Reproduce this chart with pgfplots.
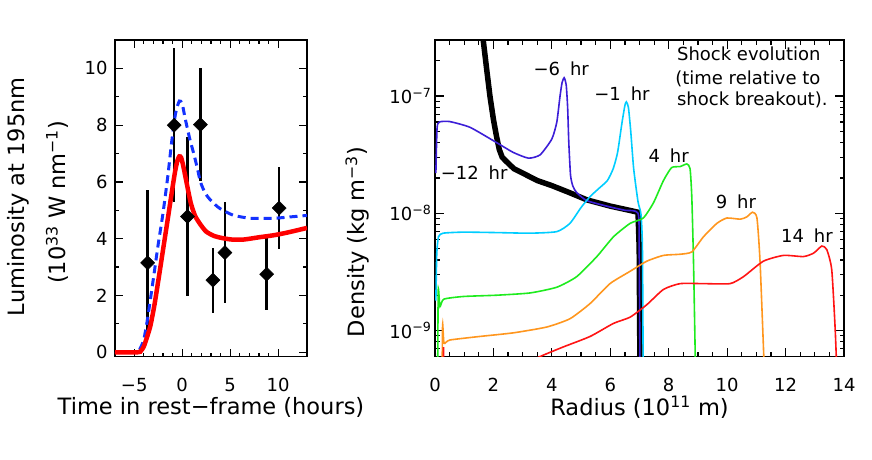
\documentclass[border=0pt]{standalone}
\usepackage{fontspec}
\setmainfont{DejaVu Sans}
\usepackage{pgfplots}
\pgfplotsset{compat=1.18}
\definecolor{cviolet}{RGB}{60,30,215}
\definecolor{ccyan}{RGB}{0,205,255}
\definecolor{cgreen}{RGB}{30,235,30}
\definecolor{corange}{RGB}{255,150,30}
\definecolor{cred}{RGB}{255,20,20}
\definecolor{lblue}{RGB}{20,50,255}
\newcommand{\tl}{\fontsize{18}{20}\selectfont}
\newcommand{\al}{\fontsize{22.5}{24}\selectfont}
\newcommand{\an}{\fontsize{18}{20}\selectfont}
\begin{document}
\begin{tikzpicture}
\path[use as bounding box] (0pt,0pt) rectangle (872pt,459pt);
% ---------------- left panel ----------------
\begin{axis}[
  at={(115pt,102.5pt)}, anchor=south west, scale only axis,
  width=192pt, height=316.5pt,
  xmin=-7, xmax=13, ymin=-0.15, ymax=11,
  xtick={-5,0,5,10}, xticklabels={−5,0,5,10}, minor x tick num=4,
  ytick={0,2,4,6,8,10}, yticklabels={0,2,4,6,8,10}, minor y tick num=1,
  tick align=inside, major tick length=8pt, minor tick length=4pt,
  axis line style={line width=1.6pt},
  every tick/.style={line width=1.2pt, black},
  tick label style={font=\tl},
  xticklabel style={yshift=-18pt},
  yticklabel style={xshift=-4pt},
  xlabel={Time in rest−frame (hours)},
  xlabel style={at={(axis description cs:0.5,-0.16)}, anchor=center, font=\al},
  ylabel={Luminosity at 195nm},
  ylabel style={at={(axis description cs:-0.505,0.505)}, anchor=center, font=\al},
  extra description/.code={\node[rotate=90, font=\al] at (-0.302,0.487) {(10\textsuperscript{33} W nm\textsuperscript{−1})};},
]
\addplot[only marks, mark=diamond*, mark size=7pt,
  mark options={xscale=1.333, fill=black, draw=black, line width=0.5pt},
  error bars/.cd, y dir=both, y explicit, error mark=none,
  error bar style={line width=2.4pt, black}]
  table[x=x, y=y, y error=e] {
x y e
-3.6 3.15 2.55
-0.83 8.0 2.72
0.55 4.78 2.8
1.9 8.02 1.98
3.2 2.54 1.15
4.45 3.51 1.77
8.8 2.75 1.27
10.1 5.08 1.45
};
\addplot[lblue, line width=3pt, dash pattern=on 8pt off 5pt, smooth, tension=0.4] coordinates {
(-7,0) (-4.7,0) (-4.4,0.12) (-4.0,0.45) (-3.6,1.2) (-3.0,2.6) (-2.5,3.8) (-2.0,4.9) (-1.5,6.2) (-1.1,7.4) (-0.7,8.4) (-0.3,8.85) (0,8.75) (0.3,8.25) (0.8,7.5) (1.2,7.0) (1.6,6.45) (1.9,6.0) (2.4,5.6) (2.9,5.38) (3.5,5.18) (4.0,5.05) (5.3,4.83) (7.1,4.72) (9.5,4.72) (11,4.76) (13,4.82)
};
\addplot[red, line width=4.5pt, smooth, tension=0.4] coordinates {
(-7,0) (-4.6,0) (-4.3,0.05) (-4.0,0.2) (-3.6,0.6) (-3.3,0.95) (-2.9,1.65) (-2.5,2.5) (-2.0,3.6) (-1.5,4.7) (-1.1,5.6) (-0.75,6.35) (-0.5,6.75) (-0.3,6.9) (-0.1,6.85) (0.15,6.5) (0.5,5.9) (0.9,5.25) (1.35,4.8) (1.9,4.5) (2.5,4.25) (3.3,4.1) (4.2,4.02) (5.2,3.97) (6.4,3.97) (8,4.05) (9.5,4.12) (11,4.22) (13,4.38)
};
\end{axis}
% ---------------- right panel ----------------
\begin{axis}[
  at={(435pt,102.5pt)}, anchor=south west, scale only axis,
  width=409pt, height=316.5pt,
  xmin=0, xmax=14, ymode=log, ymin=6e-10, ymax=3e-7,
  xtick={0,2,4,6,8,10,12,14}, xticklabels={0,2,4,6,8,10,12,14}, minor x tick num=3,
  ytick={1e-9,1e-8,1e-7},
  yticklabels={10\textsuperscript{−9},10\textsuperscript{−8},10\textsuperscript{−7}},
  minor ytick={7e-10,8e-10,9e-10,2e-9,3e-9,4e-9,5e-9,6e-9,7e-9,8e-9,9e-9,2e-8,3e-8,4e-8,5e-8,6e-8,7e-8,8e-8,9e-8,2e-7,3e-7},
  tick align=inside, major tick length=9pt, minor tick length=4.5pt,
  axis line style={line width=1.6pt},
  every tick/.style={line width=1.2pt, black},
  tick label style={font=\tl},
  xticklabel style={yshift=-18pt},
  xlabel={Radius (10\textsuperscript{11} m)},
  xlabel style={at={(axis description cs:0.5,-0.16)}, anchor=center, font=\al},
  ylabel={Density (kg m\textsuperscript{−3})},
  ylabel style={at={(axis description cs:-0.19,0.362)}, anchor=center, font=\al},
]
% black: -12 hr
\addplot[black, line width=5.5pt] coordinates {
(1.45,1e-6) (1.65,3.0e-7) (1.78,1.6e-7) (1.88,1.0e-7) (2.0,6.3e-8) (2.1,4.6e-8) (2.2,3.5e-8) (2.3,3.0e-8) (2.45,2.75e-8) (2.7,2.4e-8) (3.0,2.2e-8) (3.5,1.9e-8) (4.0,1.72e-8) (4.6,1.5e-8) (5.2,1.3e-8) (6.0,1.15e-8) (6.5,1.08e-8) (6.95,1.02e-8) (6.99,5e-9) (7.02,3e-10)
};
% violet: -6 hr
\addplot[cviolet, line width=1.6pt, smooth, tension=0.35] coordinates {
(0.03,2.2e-8) (0.07,5.3e-8) (0.15,6.0e-8) (0.5,6.05e-8) (1.2,5.4e-8) (2.11,4.0e-8) (2.68,3.3e-8) (3.2,2.95e-8) (3.6,3.15e-8) (4.0,4.3e-8) (4.17,6.0e-8) (4.28,1.0e-7) (4.35,1.3e-7) (4.42,1.43e-7) (4.49,1.25e-7) (4.54,8.0e-8) (4.58,4.0e-8) (4.64,2.1e-8) (4.72,1.7e-8) (4.85,1.5e-8) (5.2,1.28e-8) (6.0,1.13e-8) (6.5,1.06e-8) (6.95,1.0e-8) (6.99,5e-9) (7.02,3e-10)
};
% cyan: -1 hr
\addplot[ccyan, line width=1.6pt, smooth, tension=0.35] coordinates {
(0.03,1.8e-9) (0.06,4.5e-9) (0.12,6.3e-9) (0.28,6.76e-9) (0.97,6.9e-9) (2.11,6.84e-9) (3.25,6.76e-9) (4.17,6.97e-9) (4.62,8.2e-9) (5.0,1.12e-8) (5.3,1.38e-8) (5.6,1.62e-8) (5.9,1.9e-8) (6.1,2.4e-8) (6.25,3.3e-8) (6.4,5.9e-8) (6.5,8.3e-8) (6.55,8.9e-8) (6.62,8.0e-8) (6.7,5.0e-8) (6.8,2.4e-8) (6.95,1.25e-8) (7.05,9.8e-9) (7.1,5e-9) (7.13,3e-10)
};
% green: 4 hr
\addplot[cgreen, line width=1.6pt, smooth, tension=0.35] coordinates {
(0.09,3e-10) (0.11,2.2e-9) (0.17,1.6e-9) (0.3,1.85e-9) (0.97,1.95e-9) (2.11,2.0e-9) (3.25,2.09e-9) (4.17,2.34e-9) (4.85,2.88e-9) (5.54,4.27e-9) (6.11,6.3e-9) (6.68,8.2e-9) (7.13,9.1e-9) (7.48,1.23e-8) (7.82,1.9e-8) (8.1,2.45e-8) (8.39,2.5e-8) (8.62,2.63e-8) (8.73,2.4e-8) (8.79,1.38e-8) (8.85,3.7e-9) (8.93,3e-10)
};
% orange: 9 hr
\addplot[corange, line width=1.6pt, smooth, tension=0.35] coordinates {
(0.24,3e-10) (0.26,1.12e-9) (0.31,7.8e-10) (0.51,8.3e-10) (1.54,8.9e-10) (2.68,9.55e-10) (3.82,1.07e-9) (4.62,1.26e-9) (5.31,1.7e-9) (5.99,2.51e-9) (6.68,3.2e-9) (7.25,3.9e-9) (7.82,4.37e-9) (8.39,4.47e-9) (8.79,4.68e-9) (9.19,6.3e-9) (9.65,8.2e-9) (9.99,9.1e-9) (10.45,8.9e-9) (10.67,9.3e-9) (10.87,1.02e-8) (11.02,9.1e-9) (11.13,3.7e-9) (11.3,3e-10)
};
% red: 14 hr
\addplot[cred, line width=1.6pt] coordinates {(0.27,3e-10) (0.29,7.2e-10) (0.31,3e-10)};
\addplot[cred, line width=1.6pt, smooth, tension=0.35] coordinates {
(3.0,5.0e-10) (3.6,6.0e-10) (4.39,7.24e-10) (5.31,8.9e-10) (6.11,1.15e-9) (6.68,1.3e-9) (7.25,1.66e-9) (7.82,2.24e-9) (8.39,2.51e-9) (9.19,2.51e-9) (10.1,2.51e-9) (10.56,2.88e-9) (11.24,3.9e-9) (11.93,4.37e-9) (12.61,4.27e-9) (12.96,4.57e-9) (13.24,5.25e-9) (13.41,4.9e-9) (13.58,3.3e-9) (13.7,1.0e-9) (13.78,3e-10)
};
\node[font=\an] at (axis cs:4.32,1.7e-7) {−6\hspace{0.55em}hr};
\node[font=\an] at (axis cs:6.4,1.05e-7) {−1\hspace{0.55em}hr};
\node[font=\an] at (axis cs:1.34,2.2e-8) {−12\hspace{0.55em}hr};
\node[font=\an] at (axis cs:8.0,3.08e-8) {4\hspace{0.55em}hr};
\node[font=\an] at (axis cs:10.3,1.25e-8) {9\hspace{0.55em}hr};
\node[font=\an] at (axis cs:12.73,6.4e-9) {14\hspace{0.55em}hr};
\node[font=\an, anchor=base west, inner sep=0pt] at (axis cs:8.28,1.99e-7) {Shock evolution};
\node[font=\an, anchor=base west, inner sep=0pt] at (axis cs:8.22,1.26e-7) {(time relative to};
\node[font=\an, anchor=base west, inner sep=0pt] at (axis cs:8.28,8.22e-8) {shock breakout).};
\end{axis}
\end{tikzpicture}
\end{document}
